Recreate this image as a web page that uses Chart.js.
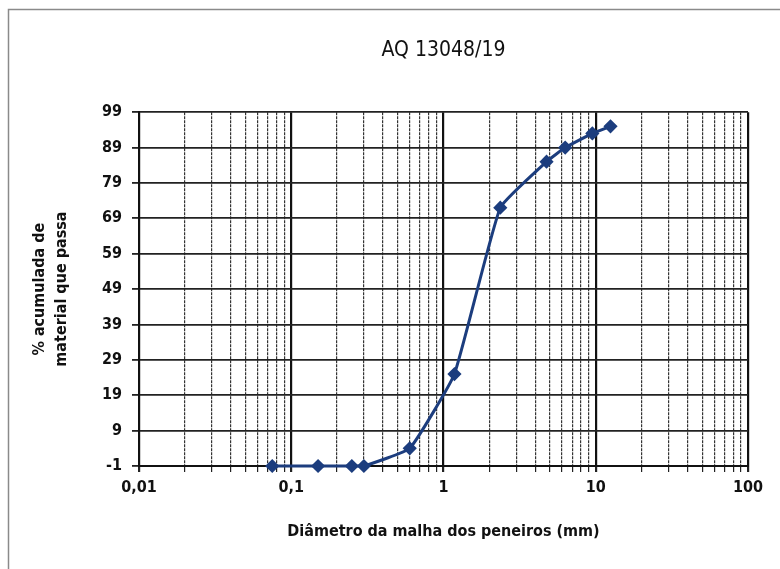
<!DOCTYPE html>
<html>
<head>
<meta charset="utf-8">
<script src="https://cdn.jsdelivr.net/npm/chart.js@4"></script>
<style>
    html, body { margin: 0; padding: 0; background: #fff; }
    #wrap { width: 780px; height: 569px; position: relative; }
</style>
</head>
<body>
<div id="wrap"><canvas id="chart"></canvas></div>
<script>
const sieveSizes = [0.075, 0.15, 0.25, 0.3, 0.6, 1.18, 2.36, 4.75, 6.3, 9.5, 12.5];
const passingPct = [-1, -1, -1, -1, 4, 25, 72, 85, 89, 93, 95];

const yTicks = [-1, 9, 19, 29, 39, 49, 59, 69, 79, 89, 99];
const xDecades = [0.01, 0.1, 1, 10, 100];
const xDecadeLabels = ["0,01", "0,1", "1", "10", "100"];

const FONT = "'Liberation Sans Narrow', 'DejaVu Sans Condensed', 'Liberation Sans', sans-serif";
const LINE = "#1c3d7e";

// all 1..9 x 10^n gridlines between 0.01 and 100
const xGrid = [];
for (let d = 0; d < xDecades.length - 1; d++) {
    for (let m = 1; m <= 9; m++) xGrid.push(+(xDecades[d] * m).toPrecision(3));
}
xGrid.push(100);

const isDecade = (v) => xDecades.some(d => Math.abs(d - v) < 1e-9);

const frame = {
    id: "frame",
    beforeDraw(chart) {
        const ctx = chart.ctx;
        ctx.save();
        ctx.fillStyle = "#fff";
        ctx.fillRect(0, 0, chart.width, chart.height);
        ctx.strokeStyle = "#8a8a8a";
        ctx.lineWidth = 1.5;
        ctx.strokeRect(8.5, 9.5, chart.width + 10, chart.height + 10);
        ctx.restore();
    }
};

new Chart(document.getElementById("chart"), {
    type: "line",
    data: {
        datasets: [{
            data: sieveSizes.map((x, i) => ({ x, y: passingPct[i] })),
            borderColor: LINE,
            backgroundColor: LINE,
            borderWidth: 3,
            pointStyle: "rectRot",
            pointRadius: 5,
            pointHoverRadius: 5,
            tension: 0.12,
            clip: false
        }]
    },
    options: {
        responsive: true,
        maintainAspectRatio: false,
        animation: false,
        layout: { padding: { left: 8, right: 32, top: 0, bottom: 24 } },
        plugins: {
            legend: { display: false },
            tooltip: { enabled: false },
            title: {
                display: true,
                fullSize: false,
                text: "AQ 13048/19",
                color: "#111",
                font: { family: FONT, size: 21, weight: "normal" },
                padding: { top: 38, bottom: 49 }
            }
        },
        scales: {
            x: {
                type: "logarithmic",
                min: 0.01,
                max: 100,
                afterBuildTicks: (scale) => { scale.ticks = xGrid.map(v => ({ value: v })); },
                afterFit: (scale) => { scale.height = 79; },
                ticks: {
                    autoSkip: false,
                    maxRotation: 0,
                    color: "#111",
                    padding: 6,
                    font: { family: FONT, size: 16, weight: "bold" },
                    callback: (v) => {
                        const i = xDecades.findIndex(d => Math.abs(d - v) < 1e-9);
                        return i >= 0 ? xDecadeLabels[i] : "";
                    }
                },
                grid: {
                    color: (c) => isDecade(c.tick.value) ? "#111" : "#333",
                    lineWidth: (c) => isDecade(c.tick.value) ? 2.2 : 1.2,
                    tickLength: 6,
                    tickColor: "#222"
                },
                border: {
                    color: "#111",
                    width: 2,
                    dash: (c) => (c.tick && !isDecade(c.tick.value)) ? [3, 1] : []
                },
                title: {
                    display: true,
                    text: "Diâmetro da malha dos peneiros (mm)",
                    color: "#111",
                    font: { family: FONT, size: 16, weight: "bold" },
                    padding: { top: 4, bottom: 4 }
                }
            },
            y: {
                min: -1,
                max: 99,
                afterBuildTicks: (scale) => { scale.ticks = yTicks.map(v => ({ value: v })); },
                afterFit: (scale) => { scale.width = 131; },
                ticks: {
                    color: "#111",
                    padding: 10,
                    font: { family: FONT, size: 16, weight: "bold" }
                },
                grid: {
                    color: "#222",
                    lineWidth: 1.8,
                    tickLength: 7,
                    tickColor: "#222"
                },
                border: { color: "#111", width: 2 },
                title: {
                    display: true,
                    text: ["% acumulada de", "material que passa"],
                    color: "#111",
                    font: { family: FONT, size: 16, weight: "bold", lineHeight: 1.375 },
                    padding: { top: 21, bottom: 0 }
                }
            }
        }
    },
    plugins: [frame]
});
</script>
</body>
</html>
